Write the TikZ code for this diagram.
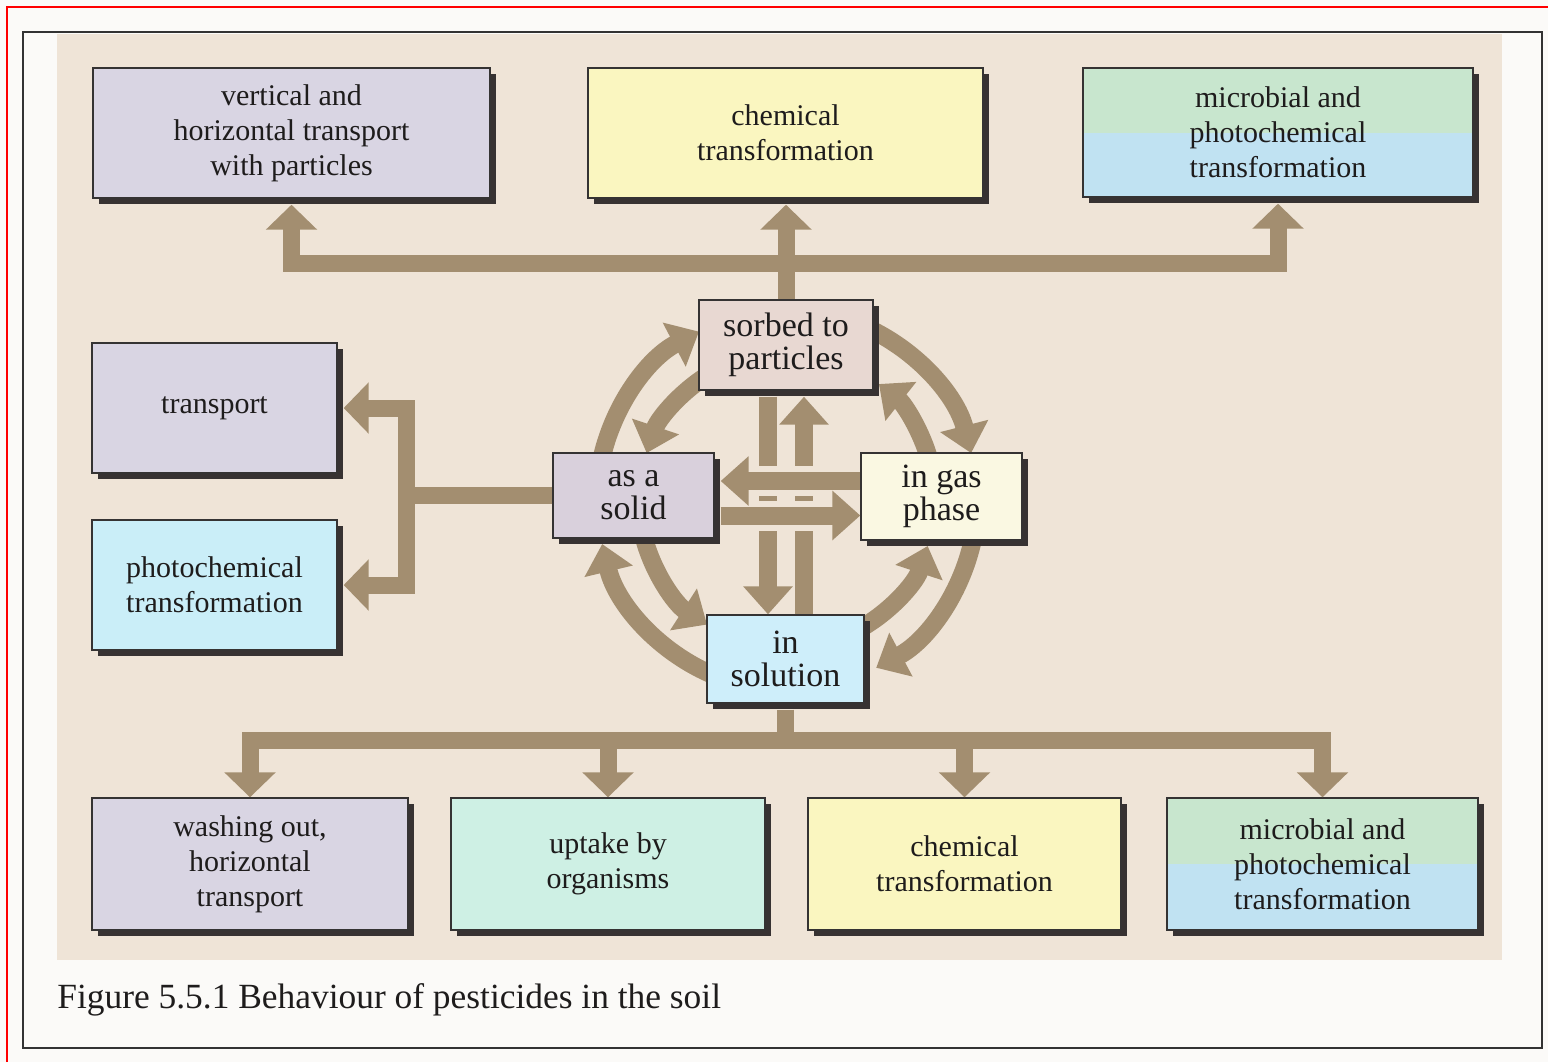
\documentclass[tikz,border=0pt]{standalone}
\usepackage{fontspec}
\setmainfont{Liberation Serif}
\usetikzlibrary{arrows.meta,shadows,calc}
\definecolor{beige}{RGB}{239,228,215}
\definecolor{paper}{RGB}{251,250,248}
\definecolor{taupe}{RGB}{163,142,112}
\definecolor{lav}{RGB}{217,213,227}
\definecolor{yel}{RGB}{250,246,192}
\definecolor{grn}{RGB}{200,230,206}
\definecolor{blu}{RGB}{192,226,242}
\definecolor{cyn}{RGB}{202,238,248}
\definecolor{mint}{RGB}{206,240,228}
\definecolor{sorb}{RGB}{232,216,210}
\definecolor{solc}{RGB}{217,208,220}
\definecolor{gasc}{RGB}{250,248,226}
\definecolor{solnc}{RGB}{206,238,250}
\definecolor{ink}{RGB}{30,28,28}
\definecolor{shade}{RGB}{55,50,50}
\begin{document}
\begin{tikzpicture}[x=0.5pt,y=-0.5pt,
  box/.style={draw=ink!90, line width=0.7pt, align=center, text=ink, inner sep=0pt,
     font=\fontsize{15}{17.5}\selectfont,
     drop shadow={shadow xshift=3pt,shadow yshift=-3pt,fill=shade,opacity=1}},
  cbox/.style={box, font=\fontsize{17}{16.5}\selectfont},
  bus/.style={draw=taupe, line width=8.5pt},
  busarrow/.style={bus, -{Triangle[length=12.5pt,width=25pt]}},
  carrow/.style={draw=taupe, line width=9pt, -{Triangle[length=14pt,width=24pt]}},
  halo/.style={draw=beige, line width=15pt},
  split/.style 2 args={fill=#1, path picture={
     \fill[#1] (path picture bounding box.north west) rectangle (path picture bounding box.east);
     \fill[#2] (path picture bounding box.west) rectangle (path picture bounding box.south east);}}
]
\useasboundingbox (0,0) rectangle (1548,1062);
% frames
\fill[paper] (0,0) rectangle (1548,1062);
\draw[red, line width=1.2pt] (7,1062) -- (7,7) -- (1548,7);
\draw[black!80, line width=1.4pt] (23,32) rectangle (1542,1048);
\fill[beige] (57,34) rectangle (1502,960);

% circle arcs (drawn beneath the central boxes)
\coordinate (cc) at (787,500);
\draw[carrow] ([shift={(190:190)}]cc) arc[start angle=190,end angle=242.4,radius=190];
\draw[carrow] ([shift={(292:190)}]cc) arc[start angle=292,end angle=345.7,radius=190];
\draw[carrow] ([shift={(10:190)}]cc) arc[start angle=10,end angle=62,radius=190];
\draw[carrow] ([shift={(112:190)}]cc) arc[start angle=112,end angle=166.6,radius=190];
\draw[carrow] ([shift={(240:148)}]cc) arc[start angle=240,end angle=198.5,radius=148];
\draw[carrow] ([shift={(345:148)}]cc) arc[start angle=345,end angle=308.4,radius=148];
\draw[carrow] ([shift={(62:148)}]cc) arc[start angle=62,end angle=18.1,radius=148];
\draw[carrow] ([shift={(166:148)}]cc) arc[start angle=166,end angle=122.7,radius=148];

% top row
\node[box, fill=lav, minimum width=198.5pt, minimum height=65pt] (vert) at (291.5,133) {vertical and\\horizontal transport\\with particles};
\node[box, fill=yel, minimum width=197.5pt, minimum height=65pt] (chemA) at (785.5,133) {chemical\\transformation};
\node[box, split={grn}{blu}, minimum width=195pt, minimum height=64.5pt] (microA) at (1278,132.5) {microbial and\\photochemical\\transformation};
% left
\node[box, fill=lav, minimum width=122.5pt, minimum height=65pt] (trans) at (214.5,408) {transport};
\node[box, fill=cyn, minimum width=122.5pt, minimum height=65pt] (photo) at (214.5,585) {photochemical\\transformation};
% centre
\node[cbox, fill=sorb, minimum width=87pt, minimum height=45pt] (sorbed) at (786,345) {sorbed to\\particles};
\node[cbox, fill=solc, minimum width=80.5pt, minimum height=42.5pt] (solid) at (633.5,495.5) {as a\\solid};
\node[cbox, fill=gasc, minimum width=80.5pt, minimum height=43.5pt] (gas) at (941.5,496.5) {in gas\\phase};
\node[cbox, fill=solnc, minimum width=78.5pt, minimum height=44pt] (soln) at (785.5,659) {in\\solution};
% bottom row
\node[box, fill=lav, minimum width=158pt, minimum height=66pt] (wash) at (250,864) {washing out,\\horizontal\\transport};
\node[box, fill=mint, minimum width=157pt, minimum height=66pt] (uptake) at (608,864) {uptake by\\organisms};
\node[box, fill=yel, minimum width=156.5pt, minimum height=66pt] (chemB) at (964.5,864) {chemical\\transformation};
\node[box, split={grn}{blu}, minimum width=155.5pt, minimum height=66pt] (microB) at (1322.5,864) {microbial and\\photochemical\\transformation};

% caption
\node[anchor=base west, font=\fontsize{17.7}{20}\selectfont, text=ink, inner sep=0pt] (cap) at (57,1008) {Figure 5.5.1 Behaviour of pesticides in the soil};

% top bus
\coordinate (tb) at (786,263);
\draw[busarrow] (sorbed.north) -- ($(sorbed.north |- chemA.south)+(0,6)$);
\draw[busarrow] (tb) -| ($(vert.south)+(0,6)$);
\draw[busarrow] (tb) -| ($(microA.south)+(0,6)$);

% left bus
\coordinate (lj) at ($(solid.west)+(-146,0)$);
\draw[bus] (solid.west) -- (lj);
\draw[busarrow] (lj) |- ($(trans.east)+(6,0)$);
\draw[busarrow] (lj) |- ($(photo.east)+(6,0)$);

% bottom bus
\coordinate (bl) at (0,740);
\coordinate (bj) at (soln.south |- bl);
\draw[bus] ($(soln.south)+(0,6)$) -- (bj);
\draw[busarrow] (bj) -| (wash.north);
\draw[busarrow] (bj) -| (uptake.north);
\draw[busarrow] (bj) -| (chemB.north);
\draw[busarrow] (bj) -| (microB.north);

% central straight arrows
\coordinate (vd) at ($(sorbed.south)+(-18,6)$);
\coordinate (vu) at ($(sorbed.south)+(18,6)$);
\draw[carrow] (vd) -- (vd |- soln.north);
\draw[carrow] (vu |- soln.north) -- (vu);
\coordinate (hl) at ($(solid.east)+(6,-14.5)$);
\coordinate (hr) at ($(solid.east)+(6,20)$);
\draw[halo] ($(hl)+(24,0)$) -- ($(hl -| gas.west)+(-30,0)$);
\draw[halo] ($(hr)+(24,0)$) -- ($(hr -| gas.west)+(-30,0)$);
\draw[carrow] (hl -| gas.west) -- (hl);
\draw[carrow] (hr) -- (hr -| gas.west);
\end{tikzpicture}
\end{document}
